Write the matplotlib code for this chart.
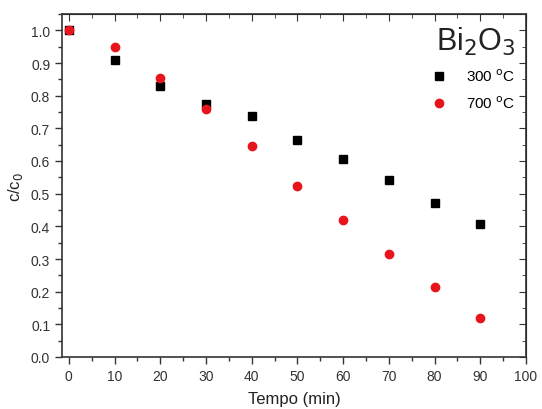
import matplotlib.pyplot as plt
from matplotlib.ticker import MultipleLocator

plt.rcParams['font.family'] = ['Liberation Sans', 'DejaVu Sans']

tempo = [0, 10, 20, 30, 40, 50, 60, 70, 80, 90]
c300 = [1.0, 0.91, 0.83, 0.773, 0.737, 0.663, 0.605, 0.541, 0.470, 0.406]
c700 = [1.0, 0.948, 0.853, 0.759, 0.645, 0.524, 0.419, 0.316, 0.215, 0.118]

fig = plt.figure(figsize=(5.42, 4.10), dpi=100)
ax = fig.add_axes([62 / 542, 52 / 410, 464 / 542, 343 / 410])

ax.plot(tempo, c300, 's', color='black', markersize=5.5, label='300 $^{\\rm o}$C', zorder=3)
ax.plot(tempo, c700, 'o', color='#e8141b', markersize=6, label='700 $^{\\rm o}$C', zorder=3)

ax.set_xlim(-1.5, 100)
ax.set_ylim(0, 1.05)
ax.xaxis.set_major_locator(MultipleLocator(10))
ax.xaxis.set_minor_locator(MultipleLocator(5))
ax.yaxis.set_major_locator(MultipleLocator(0.1))
ax.yaxis.set_minor_locator(MultipleLocator(0.05))
ax.yaxis.set_major_formatter(plt.FuncFormatter(lambda v, p: f'{v:.1f}'))

ax.tick_params(which='both', direction='out', top=False, right=False, labelsize=10, colors='#333333')
ax.tick_params(which='major', length=5, width=1)
ax.tick_params(which='minor', length=3, width=1)

# inward ticks on top and right
sx = ax.secondary_xaxis('top')
sx.xaxis.set_major_locator(MultipleLocator(10))
sx.xaxis.set_minor_locator(MultipleLocator(5))
sx.tick_params(which='both', direction='in', labeltop=False, colors='#333333')
sx.tick_params(which='major', length=5)
sx.tick_params(which='minor', length=3)
sy = ax.secondary_yaxis('right')
sy.yaxis.set_major_locator(MultipleLocator(0.1))
sy.yaxis.set_minor_locator(MultipleLocator(0.05))
sy.tick_params(which='both', direction='in', labelright=False, colors='#333333')
sy.tick_params(which='major', length=5)
sy.tick_params(which='minor', length=3)

for s in ax.spines.values():
    s.set_linewidth(1.2)
    s.set_color('#333333')

ax.set_xlabel('Tempo (min)', fontsize=12, color='#222222', labelpad=6)
ax.set_ylabel('c/c$_0$', fontsize=12, color='#222222', labelpad=4)

leg = ax.legend(title='Bi$_2$O$_3$', loc='upper right', frameon=False, fontsize=11,
                handletextpad=0.8, borderaxespad=0.3, labelspacing=0.7)
leg.get_title().set_fontsize(22)
leg.get_title().set_color('#222222')
leg._legend_box.align = 'right'

plt.savefig('out.png', dpi=100)
